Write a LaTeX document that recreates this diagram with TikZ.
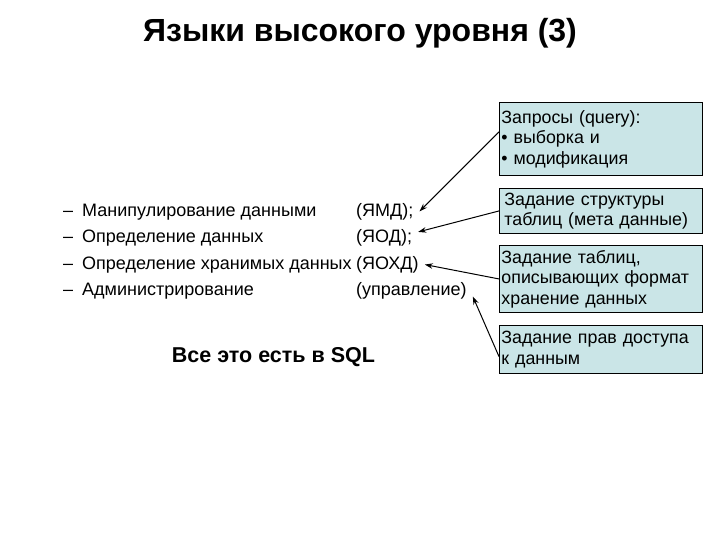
\documentclass[tikz,border=0pt]{standalone}
\usepackage{fontspec}
\setmainfont{Liberation Sans}
\usetikzlibrary{arrows.meta,positioning}
\definecolor{boxteal}{RGB}{202,229,231}
\tikzset{
  infobox/.style={
    rectangle,
    draw=black,
    line width=0.9pt,
    fill=boxteal,
    anchor=north west,
    text width=199pt,
    inner xsep=2pt,
    inner ysep=2pt,
    align=left,
    font=\fontsize{17.8}{20.5}\selectfont
  },
  itemrow/.style={
    anchor=base west,
    inner sep=0pt,
    font=\fontsize{18}{22}\selectfont
  },
  abbr/.style={
    anchor=base west,
    inner xsep=6pt,
    inner ysep=0pt,
    font=\fontsize{18}{22}\selectfont
  },
  link/.style={-{Stealth[length=8pt,width=5.5pt]}, line width=1pt, black}
}

\begin{document}
\begin{tikzpicture}[x=1pt,y=-1pt]
\useasboundingbox[fill=white] (0,0) rectangle (720,540);
% title
\node[font=\fontsize{32}{36}\selectfont\bfseries] (title) at (360,33) {Языки высокого уровня (3)};
% left list
\foreach \i/\txt in {1/Манипулирование данными,2/Определение данных,3/Определение хранимых данных,4/Администрирование}{
  \node[itemrow] (dash\i) at (63,{216+26.6*(\i-1)}) {--};
  \node[itemrow] (row\i) at (82,{216+26.6*(\i-1)}) {\txt};
}
\node[abbr] (ymd) at (350,216) {(ЯМД);};
\node[abbr] (yod) at (350,242.6) {(ЯОД);};
\node[abbr] (yohd) at (350,269.2) {(ЯОХД)};
\node[abbr] (upr) at (350,295.8) {(управление)};
\node[font=\fontsize{21.5}{25}\selectfont\bfseries] (sql) at (273.5,357) {Все это есть в SQL};
% boxes on the right
\node[infobox, minimum height=73pt] (query) at (499,102) {Запросы (query):\\• выборка и\\• модификация};
\node[infobox, minimum height=45pt, text width=193pt, inner xsep=5pt] (struct) at (499,188) {Задание структуры\\таблиц (мета данные)};
\node[infobox, minimum height=67pt] (store) at (499,245) {Задание таблиц,\\описывающих формат\\хранение данных};
\node[infobox, minimum height=48pt] (rights) at (499,325) {Задание прав доступа\\к данным};
% arrows
\draw[link] (query.176) -- (ymd.east);
\draw[link] (struct.west) -- (yod.10);
\draw[link] (store.west) -- (yohd.east);
\draw[link] (rights.184) -- (upr.-5);
\end{tikzpicture}
\end{document}
